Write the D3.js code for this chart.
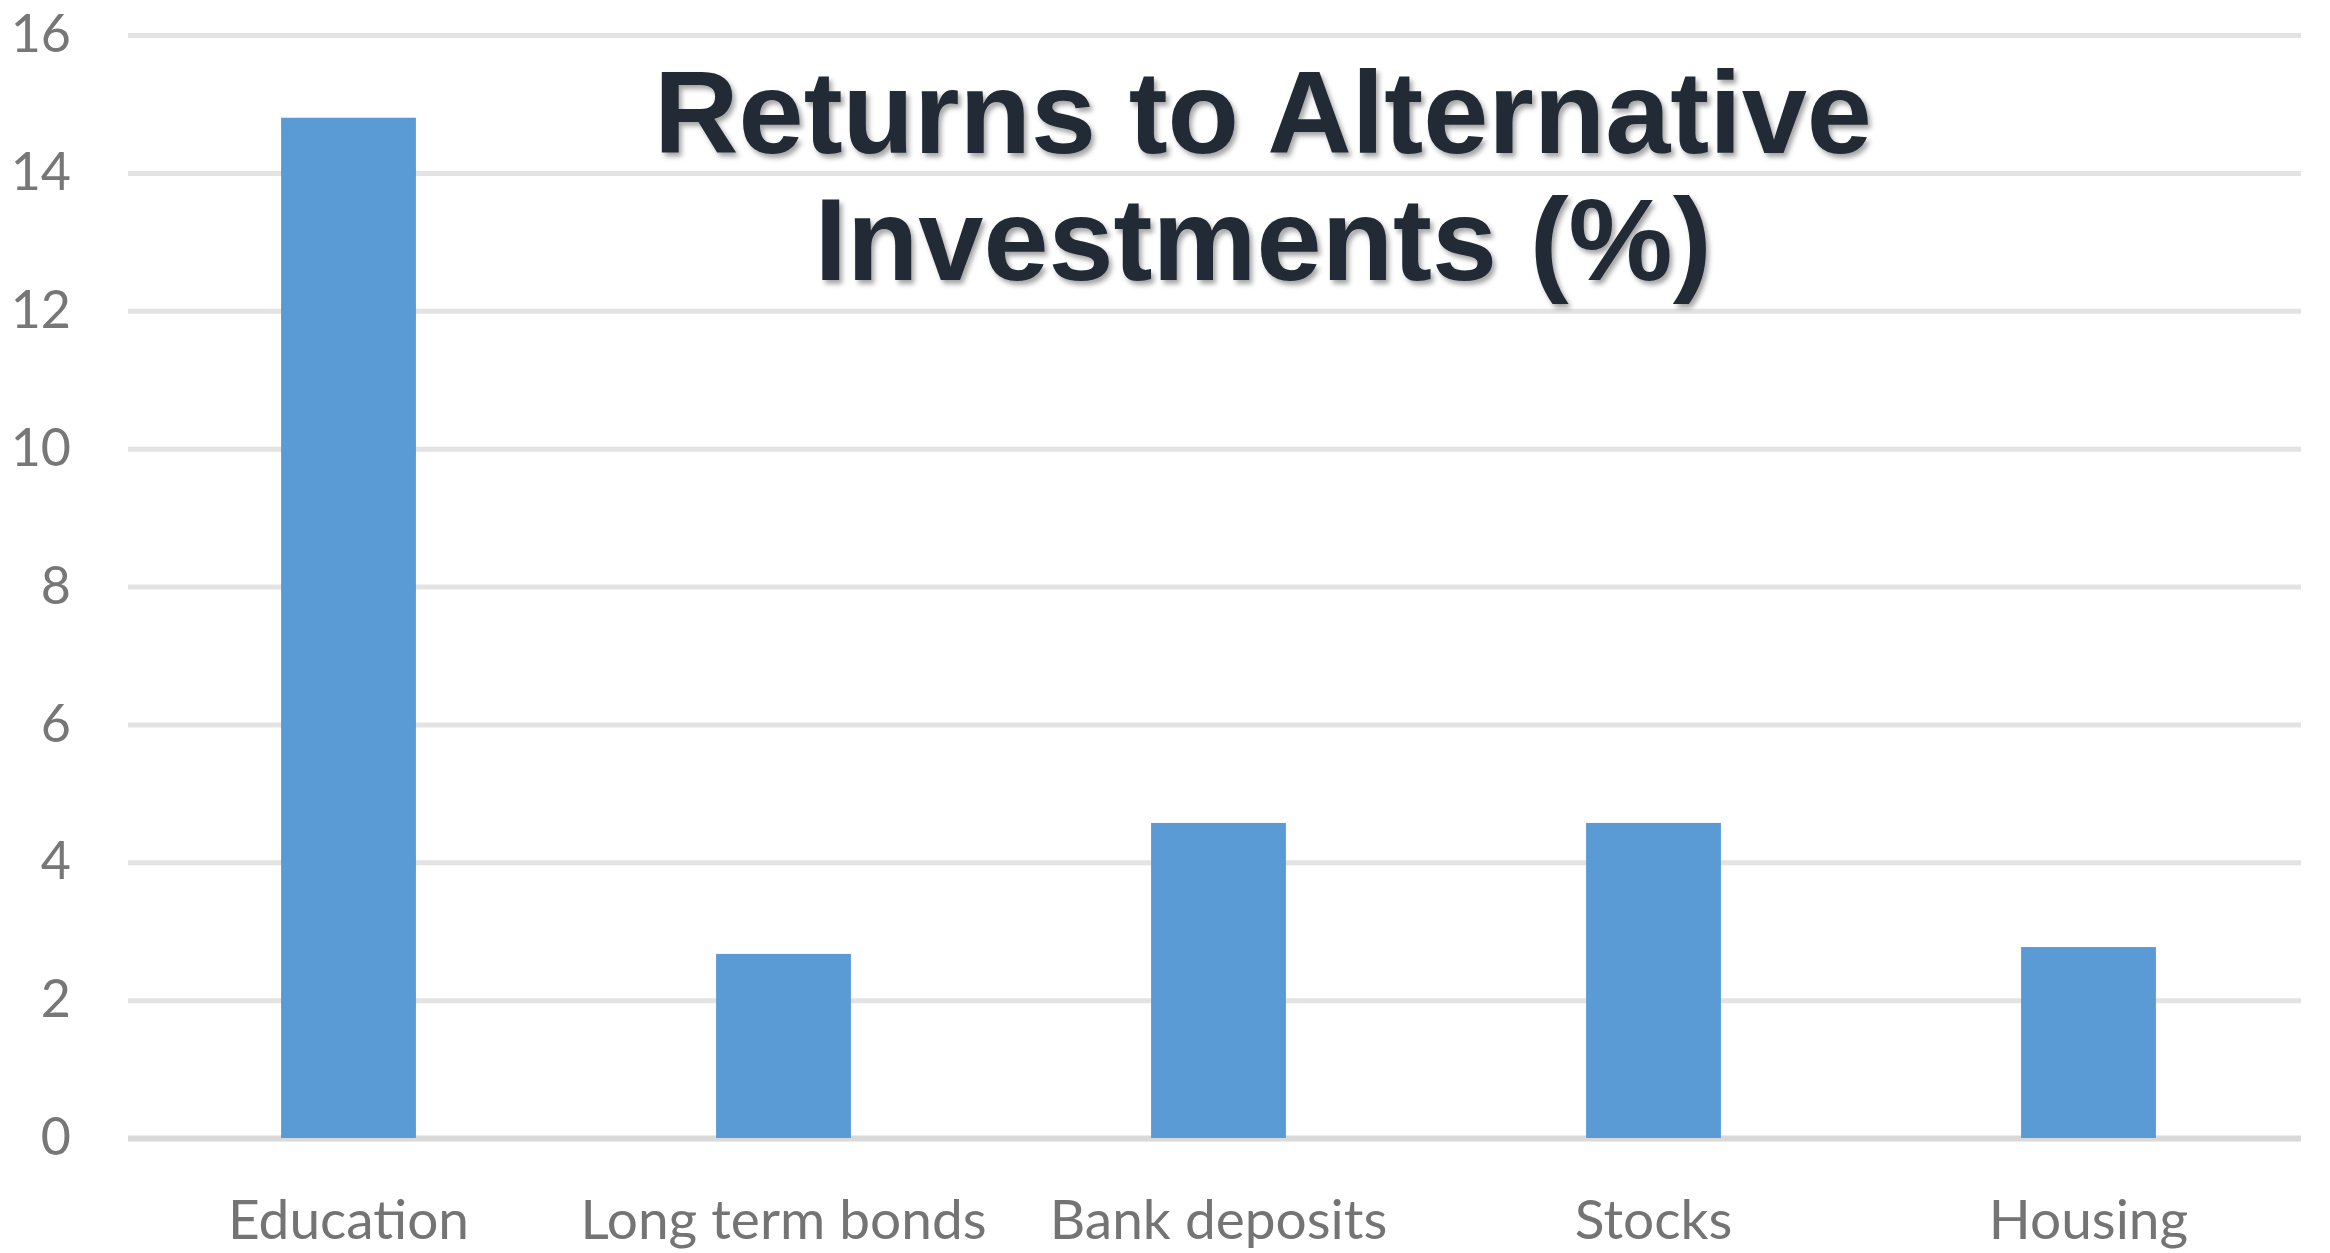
<!DOCTYPE html>
<html>
<head>
<meta charset="utf-8">
<script src="https://cdn.jsdelivr.net/npm/d3@7"></script>
<style>
  html, body { margin: 0; padding: 0; background: #ffffff; }
  svg { display: block; }
</style>
</head>
<body>
<svg id="chart" width="2330" height="1253"></svg>
<script>
// Returns to alternative investments, in percent
const categories = ["Education", "Long term bonds", "Bank deposits", "Stocks", "Housing"];
const returns = [14.8, 2.67, 4.57, 4.57, 2.77];
const yTicks = [0, 2, 4, 6, 8, 10, 12, 14, 16];
const titleLines = ["Returns to Alternative", "Investments (%)"];

const W = 2330, H = 1253;
const plot = { left: 131, right: 2306, top: 35, bottom: 1138 };

const svg = d3.select("#chart");

// soft drop shadow behind the title
const defs = svg.append("defs");
const shadow = defs.append("filter")
  .attr("id", "titleShadow")
  .attr("x", "-5%").attr("y", "-20%")
  .attr("width", "110%").attr("height", "140%");
shadow.append("feDropShadow")
  .attr("dx", 3).attr("dy", 4)
  .attr("stdDeviation", 2.5)
  .attr("flood-color", "#000")
  .attr("flood-opacity", 0.35);

const x = d3.scaleBand()
  .domain(categories)
  .range([plot.left, plot.right])
  .paddingInner(0.69)
  .paddingOuter(0.345);

const y = d3.scaleLinear()
  .domain([0, 16])
  .range([plot.bottom, plot.top]);

// horizontal gridlines
const yAxis = d3.axisLeft(y)
  .tickValues(yTicks)
  .tickSize(-(plot.right - plot.left - 2))
  .tickFormat(d3.format("d"))
  .tickPadding(57);

const gy = svg.append("g")
  .attr("transform", `translate(${plot.left - 3},0)`)
  .call(yAxis);
gy.select(".domain").remove();
gy.selectAll(".tick line")
  .attr("stroke", d => d === 0 ? "#d9d9d9" : "#e3e3e3")
  .attr("stroke-width", d => d === 0 ? 6 : 5);
gy.selectAll(".tick text")
  .attr("fill", "#777777")
  .style("font-family", "Lato, 'Open Sans', sans-serif")
  .style("font-size", "52px");

// bars
svg.append("g")
  .selectAll("rect")
  .data(categories.map((c, i) => ({ c, v: returns[i] })))
  .join("rect")
  .attr("x", d => x(d.c))
  .attr("y", d => y(d.v))
  .attr("width", x.bandwidth())
  .attr("height", d => y(0) - y(d.v))
  .attr("fill", "#5b9bd5");

// category labels
const xAxis = d3.axisBottom(x).tickSize(0).tickPadding(62);
const gx = svg.append("g")
  .attr("transform", `translate(0,${plot.bottom})`)
  .call(xAxis);
gx.select(".domain").remove();
gx.selectAll(".tick text")
  .attr("fill", "#747474")
  .style("font-family", "Lato, 'Open Sans', sans-serif")
  .style("font-size", "55px");

// title
const title = svg.append("text")
  .attr("x", 1263)
  .attr("text-anchor", "middle")
  .attr("fill", "#222b36")
  .attr("filter", "url(#titleShadow)")
  .style("font-family", "'Liberation Sans', Arial, sans-serif")
  .style("font-weight", "bold")
  .style("font-size", "117px");
title.selectAll("tspan")
  .data(titleLines)
  .join("tspan")
  .attr("x", 1263)
  .attr("y", (d, i) => 153 + i * 127)
  .text(d => d);
</script>
</body>
</html>
